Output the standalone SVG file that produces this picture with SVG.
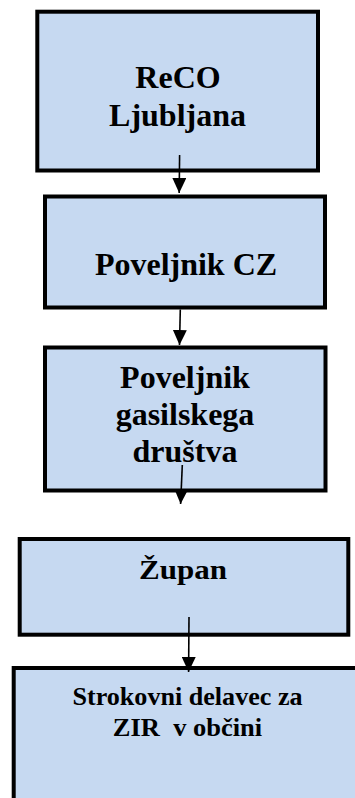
<svg xmlns="http://www.w3.org/2000/svg" width="355" height="798" viewBox="0 0 355 798">
<style>
.box{fill:#C6D9F1;stroke:#000;stroke-width:4}
.t{font-family:"Liberation Serif","Times New Roman",serif;font-weight:bold;fill:#000;text-anchor:middle}
.big{font-size:32px}
.mid{font-size:27px}
.sm{font-size:25px}
.con{stroke:#000;stroke-width:1.6;fill:none;marker-end:url(#ah)}
</style>
<defs>
<marker id="ah" markerUnits="userSpaceOnUse" markerWidth="16" markerHeight="14" refX="15" refY="7" orient="auto">
<path d="M0,0 L15,7 L0,14 z" fill="#000"/>
</marker>
</defs>
<rect width="355" height="798" fill="#fff"/>
<g id="n1">
<rect class="box" x="37.3" y="11.7" width="280.7" height="158.8"/>
<text class="t big" x="178" y="88">ReCO</text>
<text class="t big" x="177.5" y="126">Ljubljana</text>
</g>
<g id="n2">
<rect class="box" x="45" y="196.5" width="280" height="111"/>
<text class="t big" x="186" y="275">Poveljnik CZ</text>
</g>
<g id="n3">
<rect class="box" x="45" y="347.5" width="280.5" height="143"/>
<text class="t big" x="185" y="388">Poveljnik</text>
<text class="t big" x="185" y="425">gasilskega</text>
<text class="t big" x="185" y="462">društva</text>
</g>
<g id="n4">
<rect class="box" x="19.7" y="539" width="328.6" height="95.7"/>
<text class="t mid" transform="translate(183,579.3) scale(1.15,1)" x="0" y="0">Župan</text>
</g>
<g id="n5">
<rect class="box" x="13.7" y="668" width="360" height="160"/>
<text class="t sm" transform="translate(187.5,705) scale(1.045,1)" x="0" y="0">Strokovni delavec za</text>
<text class="t sm" transform="translate(187.5,736) scale(1.06,1)" x="0" y="0" xml:space="preserve">ZIR  v občini</text>
</g>
<g id="connectors">
<line class="con" x1="179.6" y1="155" x2="179.2" y2="193"/>
<line class="con" x1="180.3" y1="309.5" x2="179.5" y2="345"/>
<line class="con" x1="182.3" y1="465" x2="180.6" y2="504"/>
<line class="con" x1="189" y1="617" x2="188.6" y2="672"/>
</g>
</svg>
